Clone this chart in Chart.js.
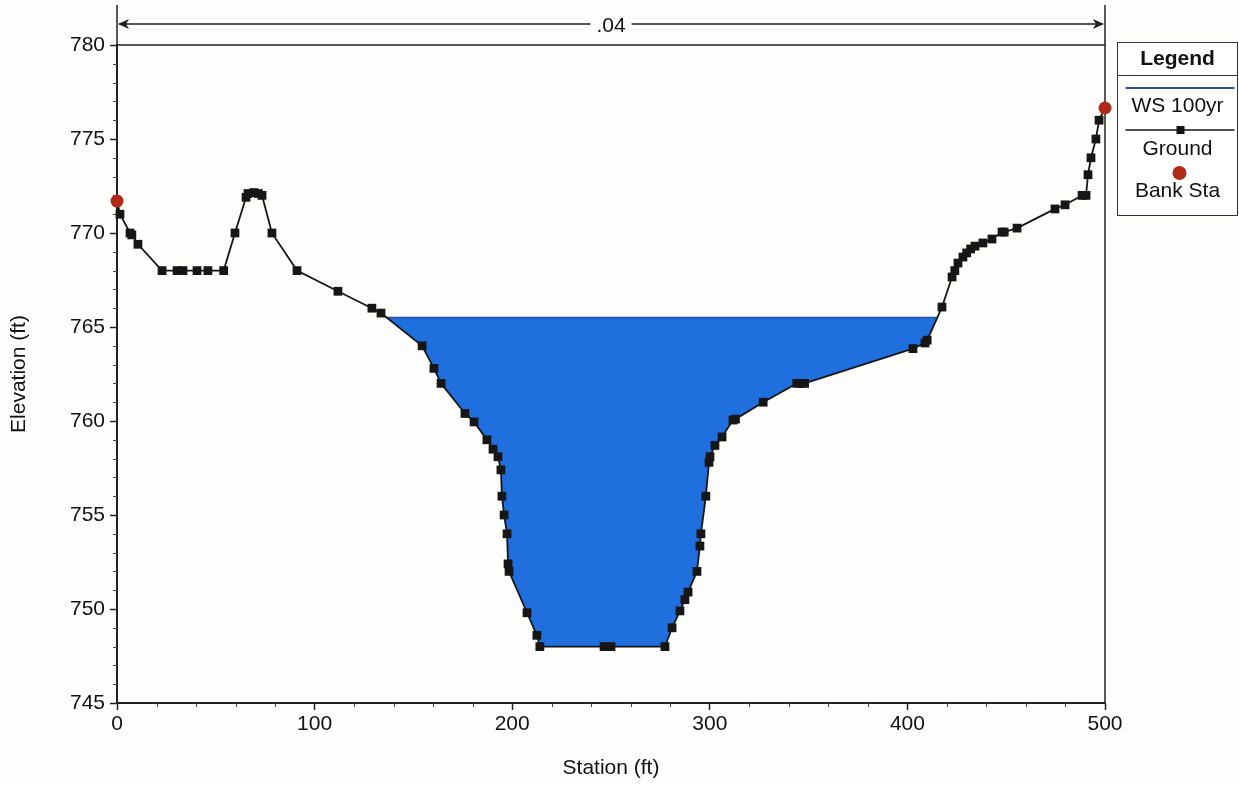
<!DOCTYPE html>
<html>
<head>
<meta charset="utf-8">
<script src="https://cdn.jsdelivr.net/npm/chart.js@4.4.1/dist/chart.umd.min.js"></script>
<style>
  html, body { margin: 0; padding: 0; background: #fdfdfb; }
  #wrap { width: 1239px; height: 785px; position: relative; }
</style>
</head>
<body>
<div id="wrap"><canvas id="xs" width="1239" height="785"></canvas></div>
<script>
// Cross section: ground survey points (station ft, elevation ft)
const groundStation = [
  0, 1.5, 6.6, 7.5, 10.6, 22.8, 30.4, 33.4, 40.5, 46, 54, 59.7, 65.3, 66.3, 69.3, 71.5, 73.4, 78.4, 91.1,
  111.8, 129, 133.6, 154.4, 160.4, 164, 176.1, 180.7, 187.2, 190.3, 192.8, 194.3, 194.8, 195.9, 197.4,
  197.9, 198.4, 207.5, 212.5, 214, 246.5, 250, 277.3, 280.9, 284.9, 287.4, 289, 293.5, 295, 295.5, 298,
  299.6, 300.1, 302.6, 306.2, 311.7, 313, 327, 344, 346, 348, 402.8, 408.9, 410, 417.5, 422.6, 424,
  425.6, 428.1, 430, 432, 434.2, 438.2, 442.8, 447.9, 449, 455.5, 474.7, 479.8, 488.4, 490.4, 491.4,
  492.9, 495.4, 497, 500
];
const groundElev = [
  771.7, 771.0, 770.0, 769.9, 769.4, 768.0, 768.0, 768.0, 768.0, 768.0, 768.0, 770.0, 771.9, 772.1, 772.15, 772.1, 772.0, 770.0, 768.0,
  766.9, 766.0, 765.74, 764.0, 762.8, 762.0, 760.4, 759.95, 759.0, 758.5, 758.1, 757.4, 756.0, 755.0, 754.0,
  752.4, 752.0, 749.8, 748.6, 748.0, 748.0, 748.0, 748.0, 749.0, 749.9, 750.5, 750.9, 752.0, 753.35, 754.0, 756.0,
  757.8, 758.1, 758.7, 759.15, 760.05, 760.1, 761.0, 762.0, 762.0, 762.0, 763.85, 764.15, 764.3, 766.06, 767.66, 768.0,
  768.4, 768.72, 768.94, 769.15, 769.3, 769.47, 769.68, 770.05, 770.05, 770.26, 771.28, 771.5, 772.0, 772.0, 773.1,
  774.0, 775.0, 776.0, 776.65
];
// Bank stations
const bankStation = [0, 500];
const bankElev = [771.7, 776.65];
// Water surface, 100-year profile
const wsElev = 765.5;
const wsLabel = 'WS 100yr';
// Manning's n across the section
const manningN = '.04';
// Axis ticks
const xTicks = [0, 100, 200, 300, 400, 500];
const yTicks = [745, 750, 755, 760, 765, 770, 775, 780];

const FONT = "'Liberation Sans', Arial, sans-serif";
const C_GROUND = '#161616';
const C_WS_LINE = '#2c4c9c';
const C_WATER = '#1f6fdf';
const C_BANK = '#b02a17';

// Wetted portion of the section: ground between the two crossings of the water surface
function wettedPolygon() {
  let iMin = 0;
  groundElev.forEach((e, i) => { if (e < groundElev[iMin]) iMin = i; });
  let l = iMin; while (l > 0 && groundElev[l - 1] < wsElev) l--;
  let r = iMin; while (r < groundElev.length - 1 && groundElev[r + 1] < wsElev) r++;
  const cross = (a, b) => {
    const t = (wsElev - groundElev[a]) / (groundElev[b] - groundElev[a]);
    return groundStation[a] + t * (groundStation[b] - groundStation[a]);
  };
  const pts = [{ x: cross(l, l - 1), y: wsElev }];
  for (let i = l; i <= r; i++) pts.push({ x: groundStation[i], y: groundElev[i] });
  pts.push({ x: cross(r, r + 1), y: wsElev });
  return pts;
}
const water = wettedPolygon();
const wsLine = [water[0], water[water.length - 1]];

const ground = groundStation.map((s, i) => ({ x: s, y: groundElev[i] }));
const banks = bankStation.map((s, i) => ({ x: s, y: bankElev[i] }));

// Frame, minor ticks, n-value bar and the boxed legend
const sectionDecor = {
  id: 'sectionDecor',
  beforeDatasetsDraw(chart) {
    const { ctx, chartArea: a, scales: { x, y } } = chart;
    ctx.save();
    ctx.strokeStyle = '#222';
    ctx.lineWidth = 1.5;
    ctx.beginPath();
    ctx.moveTo(a.left, a.top); ctx.lineTo(a.right, a.top);
    ctx.moveTo(a.right, a.top); ctx.lineTo(a.right, a.bottom);
    ctx.stroke();
    // minor ticks
    ctx.lineWidth = 1;
    ctx.strokeStyle = '#444';
    ctx.beginPath();
    for (let s = 20; s < 500; s += 20) {
      if (s % 100 === 0) continue;
      const px = Math.round(x.getPixelForValue(s)) + 0.5;
      ctx.moveTo(px, a.bottom); ctx.lineTo(px, a.bottom + 4);
    }
    for (let e = 746; e < 780; e += 1) {
      if (e % 5 === 0) continue;
      const py = Math.round(y.getPixelForValue(e)) + 0.5;
      ctx.moveTo(a.left, py); ctx.lineTo(a.left - 4, py);
    }
    ctx.stroke();
    ctx.restore();
  },
  afterDraw(chart) {
    const { ctx, chartArea: a, scales: { x } } = chart;
    ctx.save();
    // Manning's n extent bar
    const x0 = x.getPixelForValue(0), x1 = x.getPixelForValue(500);
    const yb = 24;
    ctx.strokeStyle = '#222';
    ctx.fillStyle = '#222';
    ctx.lineWidth = 1.5;
    ctx.beginPath();
    ctx.moveTo(x0, 5); ctx.lineTo(x0, a.top);
    ctx.moveTo(x1, 5); ctx.lineTo(x1, a.top);
    ctx.stroke();
    ctx.font = `21px ${FONT}`;
    const xm = (x0 + x1) / 2;
    const tw = ctx.measureText(manningN).width;
    ctx.beginPath();
    ctx.lineWidth = 1.3;
    ctx.moveTo(x0 + 2, yb); ctx.lineTo(xm - tw / 2 - 6, yb);
    ctx.moveTo(xm + tw / 2 + 6, yb); ctx.lineTo(x1 - 2, yb);
    ctx.stroke();
    const arrow = (tipX, dir) => {
      ctx.beginPath();
      ctx.moveTo(tipX, yb);
      ctx.lineTo(tipX + dir * 11, yb - 5);
      ctx.lineTo(tipX + dir * 8, yb);
      ctx.lineTo(tipX + dir * 11, yb + 5);
      ctx.closePath();
      ctx.fill();
    };
    arrow(x0 + 1, 1);
    arrow(x1 - 1, -1);
    ctx.textAlign = 'center';
    ctx.textBaseline = 'middle';
    ctx.fillStyle = '#111';
    ctx.fillText(manningN, xm, yb + 2);

    // Legend box
    const L = 1117.5, T = 42.5, W = 120, H = 173;
    const cx = L + W / 2;
    ctx.fillStyle = '#fff';
    ctx.fillRect(L, T, W, H);
    ctx.strokeStyle = '#333';
    ctx.lineWidth = 1;
    ctx.strokeRect(L, T, W, H);
    ctx.beginPath();
    ctx.moveTo(L, 75.5); ctx.lineTo(L + W, 75.5);
    ctx.stroke();
    ctx.fillStyle = '#111';
    ctx.font = `bold 21px ${FONT}`;
    ctx.fillText('Legend', cx, 59);
    ctx.font = `21px ${FONT}`;
    const ds = chart.data.datasets;
    // water surface
    ctx.strokeStyle = ds[2].borderColor;
    ctx.lineWidth = 2;
    ctx.beginPath(); ctx.moveTo(L + 8, 88); ctx.lineTo(L + W - 3, 88); ctx.stroke();
    ctx.fillStyle = '#111';
    ctx.fillText(ds[2].label, cx, 106);
    // ground
    ctx.strokeStyle = ds[1].borderColor;
    ctx.lineWidth = 1.5;
    ctx.beginPath(); ctx.moveTo(L + 8, 130); ctx.lineTo(L + W - 3, 130); ctx.stroke();
    ctx.fillStyle = ds[1].pointBackgroundColor;
    ctx.fillRect(cx + 3 - 4, 130 - 4, 8, 8);
    ctx.fillStyle = '#111';
    ctx.fillText(ds[1].label, cx, 149);
    // bank stations
    ctx.fillStyle = ds[0].pointBackgroundColor;
    ctx.beginPath(); ctx.arc(cx + 2, 173, 7, 0, Math.PI * 2); ctx.fill();
    ctx.fillStyle = '#111';
    ctx.fillText(ds[0].label, cx, 191);
    ctx.restore();
  }
};

new Chart(document.getElementById('xs'), {
  type: 'line',
  data: {
    datasets: [
      {
        label: 'Bank Sta', data: banks, showLine: false,
        pointStyle: 'circle', pointRadius: 6.5, pointBackgroundColor: C_BANK, pointBorderWidth: 0,
        clip: false
      },
      {
        label: 'Ground', data: ground, borderColor: C_GROUND, borderWidth: 1.8,
        pointStyle: 'rect', pointRadius: 6.2, pointBackgroundColor: C_GROUND, pointBorderWidth: 0,
        fill: false, tension: 0, clip: false
      },
      {
        label: wsLabel, data: wsLine, borderColor: C_WS_LINE, borderWidth: 1.5,
        pointRadius: 0, fill: false
      },
      {
        label: 'water', data: water, borderWidth: 0, borderColor: 'rgba(0,0,0,0)',
        pointRadius: 0, backgroundColor: C_WATER, fill: { value: wsElev }
      }
    ]
  },
  options: {
    responsive: false,
    animation: false,
    devicePixelRatio: 1,
    layout: { padding: { top: 45, right: 134, left: 0, bottom: 0 } },
    plugins: { legend: { display: false }, tooltip: { enabled: false } },
    events: [],
    scales: {
      x: {
        type: 'linear', min: 0, max: 500,
        afterBuildTicks: s => { s.ticks = xTicks.map(v => ({ value: v })); },
        afterFit: s => { s.height = 82; },
        grid: { drawOnChartArea: false, drawTicks: true, tickLength: 7, tickColor: '#222', tickWidth: 1.5 },
        border: { color: '#222', width: 2 },
        ticks: { color: '#111', font: { family: FONT, size: 21 }, padding: 2, maxRotation: 0 },
        title: { display: true, text: 'Station (ft)', color: '#111', font: { family: FONT, size: 21 }, padding: { top: 0, bottom: 4 } }
      },
      y: {
        type: 'linear', min: 745, max: 780,
        afterBuildTicks: s => { s.ticks = yTicks.map(v => ({ value: v })); },
        afterFit: s => { s.width = 117; },
        grid: { drawOnChartArea: false, drawTicks: true, tickLength: 7, tickColor: '#222', tickWidth: 1.5 },
        border: { color: '#222', width: 2 },
        ticks: { color: '#111', font: { family: FONT, size: 21 }, padding: 5 },
        title: { display: true, text: 'Elevation (ft)', color: '#111', font: { family: FONT, size: 21 }, padding: { top: 7, bottom: 0 } }
      }
    }
  },
  plugins: [sectionDecor]
});
</script>
</body>
</html>
